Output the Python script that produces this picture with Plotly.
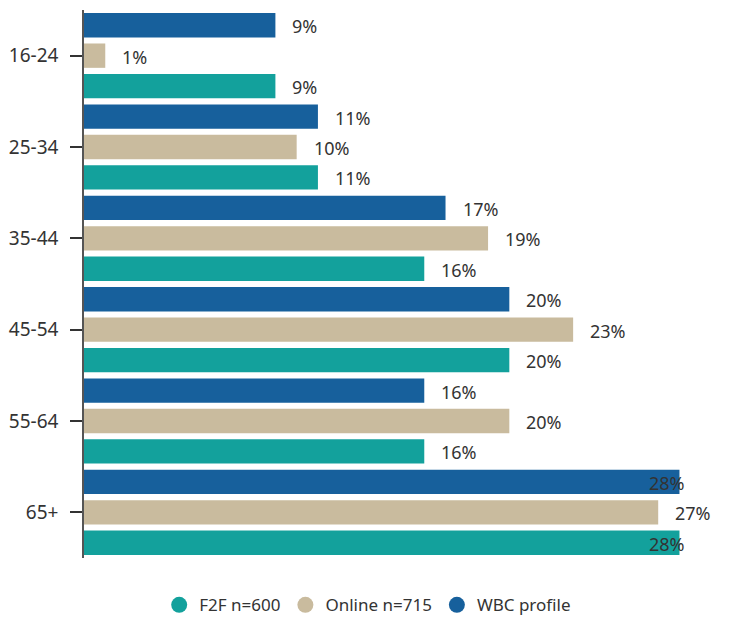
import plotly.graph_objects as go

age_groups = ["16-24", "25-34", "35-44", "45-54", "55-64", "65+"]
wbc_profile = [9, 11, 17, 20, 16, 28]
online = [1, 10, 19, 23, 20, 27]
f2f = [9, 11, 16, 20, 16, 28]

series = [
    ("WBC profile", wbc_profile, "#17609c"),
    ("Online n=715", online, "#c9bb9e"),
    ("F2F n=600", f2f, "#13a19c"),
]
legend_order = ["F2F n=600", "Online n=715", "WBC profile"]

X_MAX = 30
FONT = "Noto Sans"
TEXT_COLOR = "#333333"

fig = go.Figure()
for name, vals, color in series:
    fig.add_trace(go.Bar(
        y=age_groups, x=vals, orientation="h", name=name,
        marker=dict(color=color, line=dict(width=0)),
        showlegend=False,
    ))

# circular legend markers
for name in legend_order:
    color = [c for n, _, c in series if n == name][0]
    fig.add_trace(go.Scatter(
        x=[None], y=[None], mode="markers", name=name,
        marker=dict(symbol="circle", size=16, color=color),
    ))

# value labels just past the end of each bar
n = len(series)
slot = 1.0 / n
annotations = []
for i, (name, vals, color) in enumerate(series):
    offset = -0.5 + slot * (i + 0.5)
    for j, v in enumerate(vals):
        near_edge = v >= 28
        annotations.append(dict(
            x=v, y=j + offset, xref="x", yref="y",
            text=f"{v}%", showarrow=False,
            xanchor="left", yanchor="middle",
            xshift=-32 if near_edge else 15,
            yshift=-1,
            font=dict(family=FONT, size=18, color=TEXT_COLOR),
        ))

fig.update_layout(
    width=731, height=617,
    margin=dict(l=84, r=9, t=10, b=59),
    paper_bgcolor="white", plot_bgcolor="white",
    barmode="group", bargap=0, bargroupgap=0.2,
    annotations=annotations,
    legend=dict(
        orientation="h", xref="container", yref="container",
        x=0.503, xanchor="center", y=0.019, yanchor="middle",
        font=dict(family=FONT, size=17, color=TEXT_COLOR),
        itemsizing="trace", tracegroupgap=0,
    ),
    font=dict(family=FONT, color=TEXT_COLOR),
)
fig.update_xaxes(range=[0, X_MAX], visible=False, showgrid=False, zeroline=False)
fig.update_yaxes(
    type="category", categoryorder="array", categoryarray=age_groups,
    range=[5.5, -0.5],
    showline=True, linecolor="#555555", linewidth=1.5,
    ticks="outside", ticklen=12, tickcolor="#333333", tickwidth=1.5,
    ticklabelstandoff=8,
    tickfont=dict(family=FONT, size=19, color=TEXT_COLOR),
    showgrid=False, zeroline=False,
)

fig.write_html("out.html")
